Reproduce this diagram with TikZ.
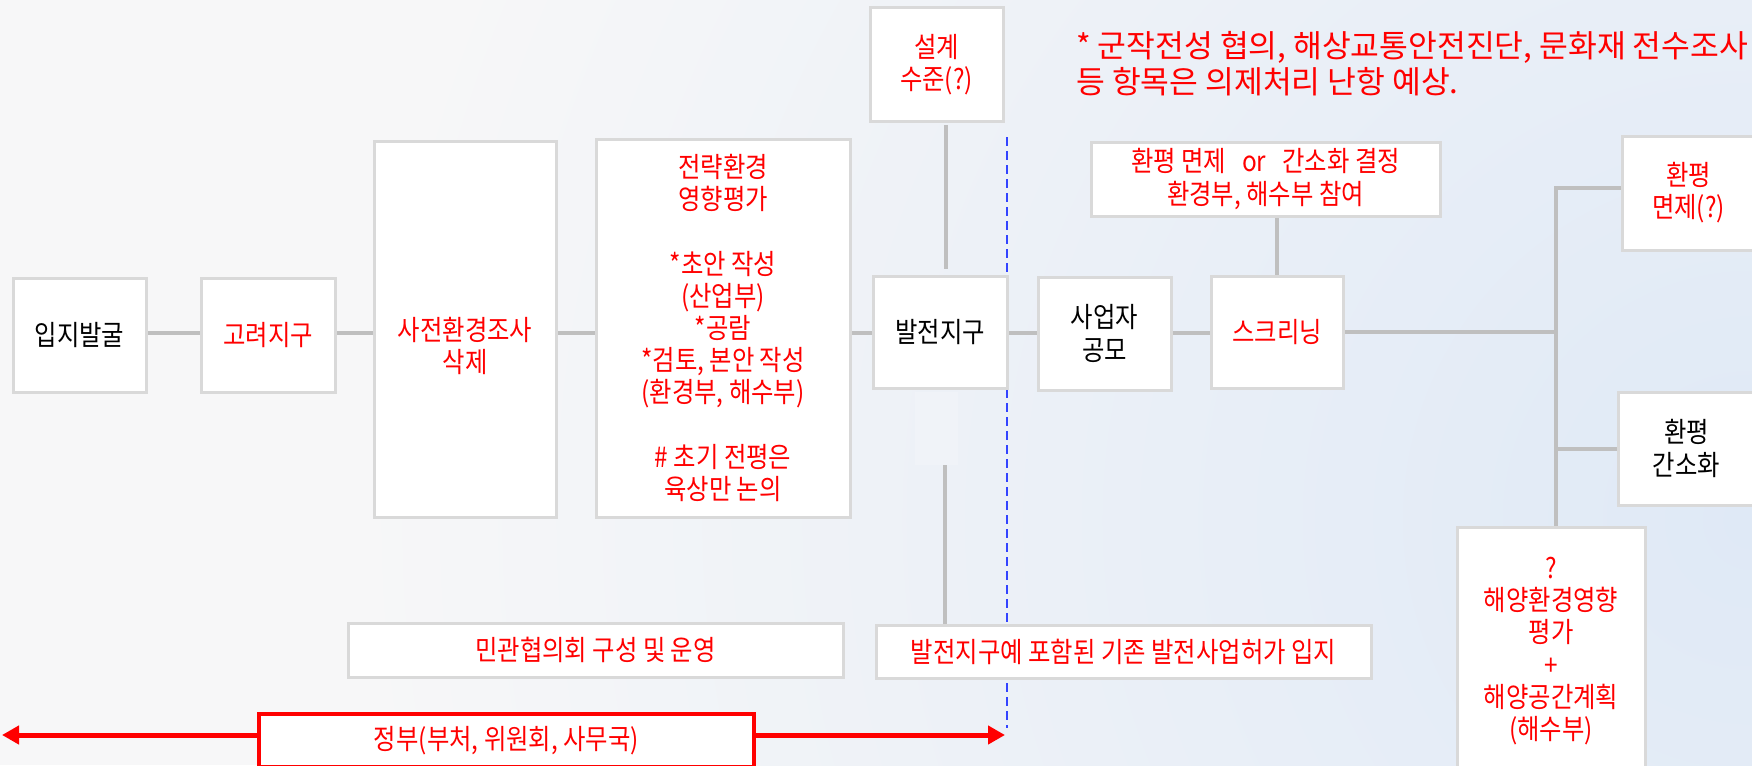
\documentclass[tikz,border=0pt]{standalone}
\usepackage{fontspec}
\setmainfont{Noto Sans CJK KR}[FakeStretch=0.87]
\newfontfamily\notefont{Noto Sans CJK KR}
\usetikzlibrary{arrows.meta}
\pgfdeclarelayer{back}
\pgfdeclarelayer{bg}
\pgfsetlayers{back,bg,main}
\definecolor{bgc}{HTML}{F7F7F8}
\definecolor{bluec}{HTML}{DFE9F6}
\definecolor{boxgray}{HTML}{D9D9D9}
\definecolor{linegray}{HTML}{BFBFBF}
\definecolor{myred}{HTML}{FF0000}
\definecolor{myblue}{HTML}{3344FF}
\newcommand\boxfont{\fontsize{28}{32.2}\selectfont}
\newcommand\mkbox[7][]{\node[box,#1,minimum width={#5-#3},minimum height={#6-#4}] (#2) at ({(#3+#5)/2},{(#4+#6)/2}) {#7};}
\begin{document}
\begin{tikzpicture}[x=1pt,y=-1pt,
  box/.style={draw=boxgray,line width=3pt,fill=white,inner sep=0pt,outer sep=0pt,align=center,font=\boxfont,text=black},
  rbox/.style={box,text=myred},
  conn/.style={draw=linegray,line width=4pt},
  lbl/.style={inner sep=0pt,align=center,font=\boxfont},
  bluedash/.style={draw=myblue,line width=2.5pt,dash pattern=on 9pt off 5pt},
  redarrow/.style={draw=myred,line width=5pt,{Triangle[length=17pt,width=18pt]}-{Triangle[length=17pt,width=18pt]}},
]
\useasboundingbox (0,0) rectangle (1752,765);
\begin{pgfonlayer}{back}
\fill[bgc] (0,0) rectangle (1752,765);
\begin{scope}
\clip (0,0) rectangle (1752,765);
\shade[inner color=bluec,outer color=bgc] (1752,520) circle[radius=1400];
\end{scope}
\end{pgfonlayer}

% boxes
\mkbox{ipji}{13}{278}{146}{392}{입지발굴}
\mkbox[rbox]{goryeo}{201}{278}{335}{392}{고려지구}
\mkbox{sajeon}{374}{141}{556}{517}{}
\node[lbl,text=myred] (sajeontxt) at (465,346) {사전환경조사\\삭제};
\mkbox[rbox]{jeonryak}{596}{139}{850}{517}{전략환경\\영향평가\\[32.2pt]{*}초안 작성\\(산업부)\\{*}공람\\{*}검토, 본안 작성\\(환경부, 해수부)\\[32.2pt]\# 초기 전평은\\육상만 논의}
\mkbox[rbox]{seolgye}{870}{8}{1003}{122}{설계\\수준(?)}
\mkbox{baljeon}{873}{276}{1007}{388}{발전지구}
\mkbox{saeopja}{1038}{277}{1171}{390}{사업자\\공모}
\mkbox[rbox]{screen}{1211}{276}{1343}{388}{스크리닝}
\mkbox[rbox]{decide}{1091}{142}{1440}{216}{환평 면제\hspace{16pt}or\hspace{16pt}간소화 결정\\환경부, 해수부 참여}
\mkbox[rbox]{menje}{1622}{136}{1755}{250}{환평\\면제(?)}
\mkbox{ganso}{1618}{392}{1755}{505}{환평\\간소화}
\mkbox[rbox]{haeyang}{1457}{527}{1645}{775}{?\\해양환경영향\\평가\\+\\해양공간계획\\(해수부)}
\mkbox[rbox]{mingwan}{348}{623}{843}{677}{민관협의회 구성 및 운영}
\mkbox[rbox]{gijon}{876}{625}{1371}{678}{발전지구예 포함된 기존 발전사업허가 입지}
\mkbox[rbox,draw=myred,line width=4.5pt]{jeongbu}{259}{714}{754}{767}{정부(부처, 위원회, 사무국)}

\node[font={\notefont\fontsize{31.3}{36}\selectfont},text=myred,align=left,anchor=west,inner sep=0pt] (note) at (1076,64) {* 군작전성 협의, 해상교통안전진단, 문화재 전수조사\\등 항목은 의제처리 난항 예상.};

% connectors
\coordinate (spine) at (0,333);
\coordinate (vx) at (946,0);
\coordinate (gaptop) at (945,465);
\coordinate (bus) at (1556,0);
\coordinate (bustop) at (1556,188);
\coordinate (dtop) at (1007,137);
\coordinate (dbot) at (1007,728);
\coordinate (aL) at (2,735);
\coordinate (aR) at (1005,735);
\begin{pgfonlayer}{bg}
\draw[conn] (ipji.east |- spine) -- (goryeo.west |- spine);
\draw[conn] (goryeo.east |- spine) -- (sajeon.west |- spine);
\draw[conn] (sajeon.east |- spine) -- (jeonryak.west |- spine);
\draw[conn] (jeonryak.east |- spine) -- (baljeon.west |- spine);
\draw[conn] (baljeon.east |- spine) -- (saeopja.west |- spine);
\draw[conn] (saeopja.east |- spine) -- (screen.west |- spine);
\draw[conn,shorten <=3pt,shorten >=7pt] (seolgye.south -| vx) -- (baljeon.north -| vx);
\draw[conn] (gaptop) -- (gijon.north -| gaptop);
\draw[conn] (screen.north) -- (screen.north |- decide.south);
\draw[conn] (screen.east) -- (screen.east -| bus);
\draw[conn] (menje.west |- bustop) -- (bustop) -- (bustop |- haeyang.north);
\draw[conn] (bus |- ganso.west) -- (ganso.west);
\draw[bluedash] (dtop) -- (dbot);
\draw[redarrow] (aL) -- (aR);
\end{pgfonlayer}
\fill[white,opacity=0.2] (915,392) rectangle (958,465);
\end{tikzpicture}
\end{document}
